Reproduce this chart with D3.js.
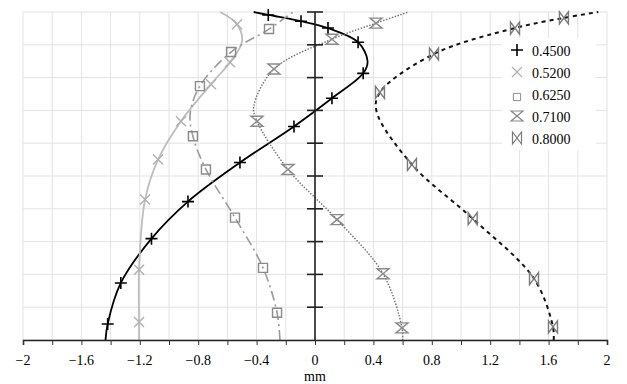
<!DOCTYPE html>
<html>
<head>
<meta charset="utf-8">
<script src="https://cdn.jsdelivr.net/npm/d3@7"></script>
<style>
body { margin: 0; background: #fff; }
</style>
</head>
<body>
<div id="chart"></div>
<script>
// series names
var seriesNames = ['0.4500', '0.5200', '0.6250', '0.7100', '0.8000'];

// markers [mm, position]  (bottom -> top)
var mk045 = [[-1.42,0.49],[-1.33,1.74],[-1.12,3.09],[-0.87,4.22],[-0.514,5.41],[-0.144,6.51],[0.116,7.37],[0.33,8.13],[0.295,9.08],[0.089,9.51],[-0.096,9.72],[-0.32,9.91]];
var mk052 = [[-1.205,0.55],[-1.205,2.14],[-1.164,4.28],[-1.075,5.50],[-0.918,6.67],[-0.712,7.80],[-0.582,8.47],[-0.534,9.63]];
var mk0625 = [[-0.26,0.83],[-0.356,2.20],[-0.548,3.73],[-0.747,5.20],[-0.836,6.21],[-0.788,7.74],[-0.575,8.78],[-0.315,9.48]];
var mk071 = [[0.596,0.37],[0.466,2.02],[0.151,3.67],[-0.185,5.20],[-0.397,6.67],[-0.281,8.26],[0.116,9.17],[0.418,9.66]];
var mk080 = [[1.63,0.40],[1.5,1.87],[1.08,3.70],[0.664,5.35],[0.445,7.55],[0.815,8.72],[1.37,9.51],[1.705,9.82]];

// curve points (ends + turning points)
var ln045 = [[-1.435,0],[-1.42,0.49],[-1.33,1.74],[-1.12,3.09],[-0.87,4.22],[-0.514,5.41],[-0.144,6.51],[0.116,7.37],[0.33,8.13],[0.36,8.5],[0.295,9.08],[0.089,9.51],[-0.096,9.72],[-0.32,9.91],[-0.42,10]];
var ln052 = [[-1.205,0],[-1.205,0.55],[-1.205,2.14],[-1.164,4.28],[-1.075,5.50],[-0.918,6.67],[-0.712,7.80],[-0.582,8.47],[-0.50,9.1],[-0.534,9.63],[-0.65,10]];
var ln0625 = [[-0.24,0],[-0.26,0.83],[-0.356,2.20],[-0.548,3.73],[-0.747,5.20],[-0.836,6.21],[-0.855,6.9],[-0.788,7.74],[-0.575,8.78],[-0.315,9.48],[-0.15,10]];
var ln071 = [[0.6,0],[0.596,0.37],[0.466,2.02],[0.151,3.67],[-0.185,5.20],[-0.397,6.67],[-0.42,7.1],[-0.281,8.26],[0.116,9.17],[0.418,9.66],[0.64,10]];
var ln080 = [[1.635,0],[1.63,0.40],[1.5,1.87],[1.08,3.70],[0.664,5.35],[0.42,7.0],[0.445,7.55],[0.815,8.72],[1.37,9.51],[1.705,9.82],[1.94,10]];

var xTickLabels = [-2, -1.6, -1.2, -0.8, -0.4, 0, 0.4, 0.8, 1.2, 1.6, 2];
var xGrid = [-2,-1.8,-1.6,-1.4,-1.2,-1,-0.8,-0.6,-0.4,-0.2,0,0.2,0.4,0.6,0.8,1,1.2,1.4,1.6,1.8,2];
var yGrid = [0,1,2,3,4,5,6,7,8,9,10];

var FONT = '"Times New Roman", "Liberation Serif", serif';

var svgWidth = 627,
svgHeight = 384;

var margin = { t: 12, r: 20, b: 44, l: 23 };
var width = svgWidth - margin.l - margin.r,
height = svgHeight - margin.t - margin.b;

var svg = d3.select('#chart')
	.append('svg')
	.attr('width', svgWidth)
	.attr('height', svgHeight);

var chart = svg.append('g')
	.attr('transform', `translate(${margin.l},${margin.t})`);

var xScale = d3.scaleLinear().domain([-2, 2]).range([0, width]);
var yScale = d3.scaleLinear().domain([0, 10]).range([height, 0]);

// grid
chart.append('g').selectAll('line')
	.data(xGrid).enter().append('line')
	.attr('x1', d => xScale(d)).attr('x2', d => xScale(d))
	.attr('y1', 0).attr('y2', height)
	.attr('stroke', '#e3e3e3').attr('stroke-width', 1);
chart.append('g').selectAll('line')
	.data(yGrid).enter().append('line')
	.attr('x1', 0).attr('x2', width)
	.attr('y1', d => yScale(d)).attr('y2', d => yScale(d))
	.attr('stroke', '#e3e3e3').attr('stroke-width', 1);

// series styles
var series = [
	{ name: seriesNames[0], line: ln045, marks: mk045, color: '#000', width: 1.8, dash: null, mcolor: '#000', sym: 'plus' },
	{ name: seriesNames[1], line: ln052, marks: mk052, color: '#bdbdbd', width: 1.8, dash: null, mcolor: '#b0b0b0', sym: 'cross' },
	{ name: seriesNames[2], line: ln0625, marks: mk0625, color: '#9a9a9a', width: 1.6, dash: '10,4,2,4', mcolor: '#8a8a8a', sym: 'square' },
	{ name: seriesNames[3], line: ln071, marks: mk071, color: '#6a6a6a', width: 1.4, dash: '1.4,1.6', mcolor: '#8a8a8a', sym: 'hour' },
	{ name: seriesNames[4], line: ln080, marks: mk080, color: '#111', width: 2, dash: '4,4', mcolor: '#7a7a7a', sym: 'bow' }
];

var symPaths = {
	plus: 'M-6,0H6M0,-6V6',
	cross: 'M-5,-5L5,5M-5,5L5,-5',
	square: 'M-4.5,-4.5H4.5V4.5H-4.5Z',
	hour: 'M-6,-5H6L-6,5H6Z',
	bow: 'M-4.5,-6V6L4.5,-6V6Z'
};

var line = d3.line()
	.x(d => xScale(d[0]))
	.y(d => yScale(d[1]))
	.curve(d3.curveCatmullRom.alpha(0.5));

series.forEach(s => {
	chart.append('path')
		.datum(s.line)
		.attr('d', line)
		.attr('fill', 'none')
		.attr('stroke', s.color)
		.attr('stroke-width', s.width)
		.attr('stroke-dasharray', s.dash);
});

// axes
var xAxis = d3.axisBottom(xScale).tickValues(xGrid).tickSize(5).tickFormat('');
var xAx = chart.append('g')
	.attr('transform', `translate(0,${height})`)
	.call(xAxis);
xAx.select('.domain').attr('stroke', '#222').attr('stroke-width', 1.6);
xAx.selectAll('.tick line').attr('stroke', '#333').attr('stroke-width', 1);

chart.append('g').selectAll('text')
	.data(xTickLabels).enter().append('text')
	.attr('x', d => xScale(d))
	.attr('y', height + 25)
	.attr('text-anchor', 'middle')
	.attr('font-family', FONT)
	.attr('font-size', 14)
	.attr('fill', '#000')
	.text(d => d3.format('')(d));

chart.append('text')
	.attr('x', xScale(0))
	.attr('y', height + 41)
	.attr('text-anchor', 'middle')
	.attr('font-family', FONT)
	.attr('font-size', 14)
	.text('mm');

// y axis at zero, ticks crossing
chart.append('line')
	.attr('x1', xScale(0)).attr('x2', xScale(0))
	.attr('y1', 0).attr('y2', height)
	.attr('stroke', '#222').attr('stroke-width', 1.6);
chart.append('g').selectAll('line')
	.data(yGrid.slice(1)).enter().append('line')
	.attr('x1', xScale(0) - 8).attr('x2', xScale(0) + 8)
	.attr('y1', d => yScale(d)).attr('y2', d => yScale(d))
	.attr('stroke', '#222').attr('stroke-width', 1.6);

// markers
series.forEach(s => {
	chart.append('g').selectAll('path')
		.data(s.marks).enter().append('path')
		.attr('transform', d => `translate(${xScale(d[0])},${yScale(d[1])})`)
		.attr('d', symPaths[s.sym])
		.attr('fill', 'none')
		.attr('stroke', s.mcolor)
		.attr('stroke-width', s.sym == 'plus' ? 1.6 : 1.4);
});

// legend
var legend = svg.append('g').attr('transform', 'translate(502,38)');
legend.append('rect')
	.attr('width', 94).attr('height', 112)
	.attr('fill', '#fff');
series.forEach((s, i) => {
	var row = legend.append('g').attr('transform', `translate(0,${12 + i * 22})`);
	row.append('path')
		.attr('transform', s.sym == 'square' ? 'translate(15,3) scale(0.8)' : 'translate(15,0)')
		.attr('d', symPaths[s.sym])
		.attr('fill', 'none')
		.attr('stroke', s.mcolor)
		.attr('stroke-width', s.sym == 'plus' ? 1.6 : 1.2);
	row.append('text')
		.attr('x', 30)
		.attr('y', 6)
		.attr('font-family', FONT)
		.attr('font-size', 14)
		.text(s.name);
});
</script>
</body>
</html>
